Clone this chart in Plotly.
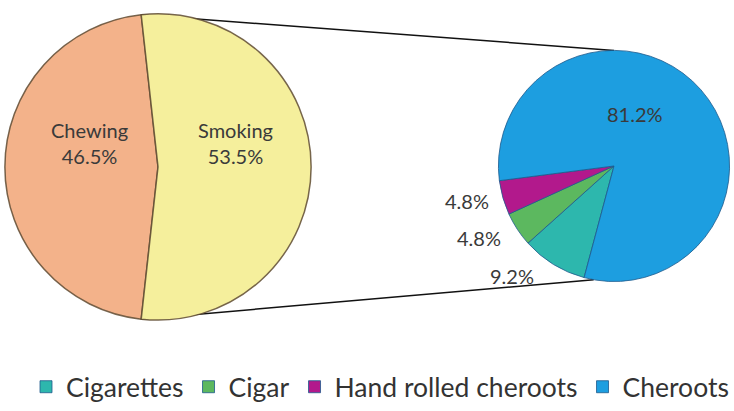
import math
import plotly.graph_objects as go

W, H = 734, 411

# ---- data ----
main_labels = ["Chewing", "Smoking"]
main_values = [46.5, 53.5]
sub_labels = ["Cigarettes", "Cigar", "Hand rolled cheroots", "Cheroots"]
sub_values = [9.2, 4.8, 4.8, 81.2]

# ---- styles ----
main_colors = ["#f3b28a", "#f5ef9c"]
sub_colors = ["#2db7ad", "#5cb85f", "#b2198c", "#1d9ee0"]
FONT = "Lato"
TXT = "#3a3a3a"

# pie geometry (pixels)
L_CX, L_CY, L_R = 158, 169, 155
R_CX, R_CY, R_R = 614, 168, 117


def dom(cx, cy, r):
    return dict(x=[(cx - r) / W, (cx + r) / W], y=[1 - (cy + r) / H, 1 - (cy - r) / H])


def px2paper(x, y):
    return x / W, 1 - y / H


def on_circle(cx, cy, r, ang):
    a = math.radians(ang)
    return cx + r * math.sin(a), cy - r * math.cos(a)


main_total = sum(main_values)
main_rot = 270 - main_values[0] / main_total * 360 / 2
sub_rot = 195

fig = go.Figure()
fig.add_trace(go.Pie(
    labels=main_labels, values=main_values, sort=False, direction="clockwise",
    rotation=main_rot, domain=dom(L_CX, L_CY, L_R), textinfo="none",
    marker=dict(colors=main_colors, line=dict(color="rgba(95,75,50,0.85)", width=1.5)),
    showlegend=False, hoverinfo="label+percent",
))
fig.add_trace(go.Pie(
    labels=sub_labels, values=sub_values, sort=False, direction="clockwise",
    rotation=sub_rot, domain=dom(R_CX, R_CY, R_R), textinfo="none",
    marker=dict(colors=sub_colors, line=dict(color="rgba(30,90,140,0.8)", width=1)),
    showlegend=True, hoverinfo="label+percent",
))

# connector lines from Smoking slice edges to the sub pie
smoke_start = main_rot + main_values[0] / main_total * 360
lt = on_circle(L_CX, L_CY, L_R, smoke_start)
lb = on_circle(L_CX, L_CY, L_R, main_rot)
rt = on_circle(R_CX, R_CY, R_R, 0)
rb = on_circle(R_CX, R_CY, R_R, 190)
shapes = []
for p, q in [(lt, rt), (lb, rb)]:
    x0, y0 = px2paper(*p)
    x1, y1 = px2paper(*q)
    shapes.append(dict(type="line", xref="paper", yref="paper", x0=x0, y0=y0, x1=x1, y1=y1,
                       line=dict(color="#111111", width=1.5), layer="below"))

annotations = []
# main pie labels
main_label_pos = [(89, 145), (235, 145)]
for (x, y), lab, val in zip(main_label_pos, main_labels, main_values):
    px, py = px2paper(x, y)
    annotations.append(dict(x=px, y=py, xref="paper", yref="paper",
                            text=f"{lab}<br>{val:.1f}%", showarrow=False,
                            xanchor="center", yanchor="middle", borderpad=0,
                            font=dict(family=FONT, size=20, color=TXT)))

# sub pie value labels
sub_label_pos = [(535, 279, "right"), (502, 241, "right"), (490, 203, "right"), (635, 115, "center")]
for (x, y, anc), val in zip(sub_label_pos, sub_values):
    px, py = px2paper(x, y)
    annotations.append(dict(x=px, y=py, xref="paper", yref="paper", text=f"{val:.1f}%", showarrow=False,
                            xanchor=anc, yanchor="middle", borderpad=0,
                            font=dict(family=FONT, size=20, color=TXT)))

fig.update_layout(
    width=W, height=H, margin=dict(l=0, r=0, t=0, b=0),
    paper_bgcolor="white", plot_bgcolor="white",
    shapes=shapes, annotations=annotations,
    legend=dict(orientation="h", x=380 / W, xanchor="center", y=1 - 392 / H, yanchor="middle",
                font=dict(family=FONT, size=26.5, color="#333333"), traceorder="normal",
                itemclick=False),
)

fig.write_html("out.html", config={"displayModeBar": False},
               post_script="document.body.style.margin='0';")
